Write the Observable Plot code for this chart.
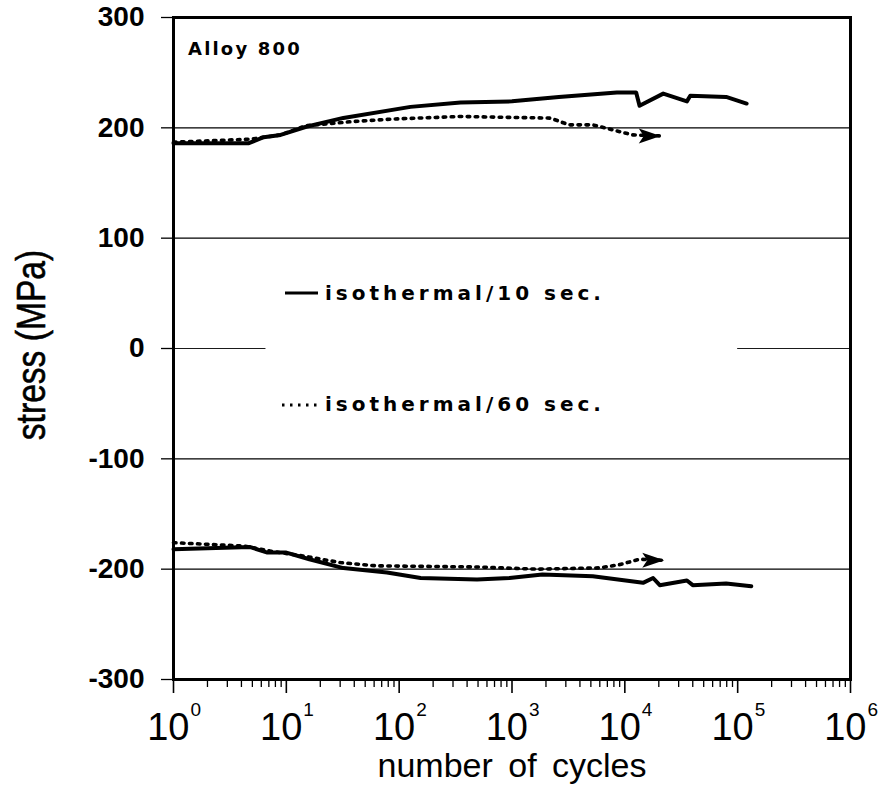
<!DOCTYPE html>
<html><head><meta charset="utf-8">
<script src="https://cdn.jsdelivr.net/npm/d3@7"></script>
<script src="https://cdn.jsdelivr.net/npm/@observablehq/plot@0.6"></script>
<style>body{margin:0;background:#fff}#chart{width:889px;height:786px}</style>
</head><body><div id="chart"></div><script>
// ---- data (cycles, stress MPa) ----
const upper10N = [1, 4.6, 6.3, 8.9, 15, 32, 126, 350, 1000, 2600, 8500, 12600, 13500, 21900, 35500, 38000, 79000, 120000];
const upper10S = [186, 186, 191.5, 193.6, 201, 209, 219, 223, 224, 228, 232, 232, 220, 231, 224, 229, 228, 222];
const upper60N = [1, 4.8, 8.9, 15, 39, 89, 350, 2200, 3200, 5200, 11700, 20400];
const upper60S = [187, 189.7, 193.6, 202, 205.7, 208, 210.3, 208.8, 202.7, 202.7, 193.6, 192.7];
const lower10N = [1, 4.8, 6.8, 10, 16, 32, 78, 155, 490, 950, 1860, 5200, 14500, 17800, 20400, 35500, 40000, 79000, 132000];
const lower10S = [-182, -180, -185, -185, -191, -199, -203, -208, -209.4, -208, -204.8, -206.4, -212.4, -208, -214.5, -210.3, -214.5, -213, -215.5];
const lower60N = [1, 4.2, 7.2, 14, 30, 63, 490, 1660, 6000, 9100, 13500, 21900];
const lower60S = [-176, -179, -183.6, -188, -194, -197, -198, -200, -198.8, -195.8, -191, -192];

const yTicks = [-300, -200, -100, 0, 100, 200, 300];
const gridValues = [-200, -100, 100, 200];
const zeroSegments = [{x1: 1, x2: 6.6}, {x1: 1e5, x2: 1e6}];
const majorTicks = [1, 10, 100, 1000, 1e4, 1e5, 1e6];
const minorTicks = [];
for (let d = 1; d < 1e6; d *= 10) for (let k = 2; k <= 9; k++) minorTicks.push(d * k);

const title = "Alloy 800";
const xLabel = "number of cycles";
const yLabel = "stress (MPa)";
const legendLabels = ["isothermal/10 sec.", "isothermal/60 sec."];

const toRows = (N, S) => N.map((n, i) => ({n, s: S[i]}));
const u10 = toRows(upper10N, upper10S), u60 = toRows(upper60N, upper60S);
const l10 = toRows(lower10N, lower10S), l60 = toRows(lower60N, lower60S);

const arrowSymbol = {
  draw(ctx) {
    ctx.moveTo(1, 0); ctx.lineTo(-21, -7.5); ctx.lineTo(-16, 0); ctx.lineTo(-21, 7.5); ctx.closePath();
  }
};

const boldFont = "DejaVu Sans, Liberation Sans, sans-serif";
const sans = "Liberation Sans, Arial, sans-serif";
const dotted = {strokeDasharray: "2.5,5.5", strokeWidth: 3.6};

const plot = Plot.plot({
  width: 889, height: 786,
  marginLeft: 173, marginRight: 39, marginTop: 17, marginBottom: 107,
  style: {background: "#fff", color: "#000"},
  x: {type: "log", domain: [1, 1e6], axis: null},
  y: {domain: [-300, 300], axis: null},
  marks: [
    Plot.ruleY(gridValues, {stroke: "#000", strokeWidth: 1.2}),
    Plot.ruleY(zeroSegments, {y: () => 0, x1: "x1", x2: "x2", stroke: "#000", strokeWidth: 0.9}),
    Plot.axisY({ticks: yTicks, tickSize: 12, tickFormat: () => "", label: null, stroke: "#000", strokeWidth: 1.3}),
    Plot.axisX({ticks: majorTicks, tickSize: 14, tickFormat: () => "", label: null, stroke: "#000", strokeWidth: 1.6}),
    Plot.axisX({ticks: minorTicks, tickSize: 8, tickFormat: () => "", label: null, stroke: "#000", strokeWidth: 1.3}),
    Plot.text(yTicks, {y: d => d, frameAnchor: "left", dx: -29, textAnchor: "end", text: d => String(d),
      fontFamily: sans, fontWeight: "bold", fontSize: 28, fill: "#000"}),
    Plot.text(majorTicks, {x: d => d, frameAnchor: "bottom", dy: 60, dx: 16, lineAnchor: "bottom", textAnchor: "end",
      text: () => "10", fontFamily: sans, fontSize: 38, fill: "#000"}),
    Plot.text(majorTicks, {x: d => d, frameAnchor: "bottom", dy: 36, dx: 17, lineAnchor: "bottom", textAnchor: "start",
      text: d => String(Math.round(Math.log10(d))), fontFamily: sans, fontSize: 19, fill: "#000"}),
    Plot.text([xLabel], {frameAnchor: "bottom", dy: 97, lineAnchor: "bottom", text: d => d,
      fontFamily: sans, fontSize: 34, fill: "#000"}),
    Plot.line(u10, {x: "n", y: "s", stroke: "#000", strokeWidth: 4, strokeLinejoin: "round"}),
    Plot.line(l10, {x: "n", y: "s", stroke: "#000", strokeWidth: 4, strokeLinejoin: "round"}),
    Plot.line(u60, {x: "n", y: "s", stroke: "#000", ...dotted}),
    Plot.line(l60, {x: "n", y: "s", stroke: "#000", ...dotted}),
    Plot.dot([u60[u60.length - 1], l60[l60.length - 1]], {x: "n", y: "s", symbol: arrowSymbol, fill: "#000", stroke: "none"}),
    Plot.frame({stroke: "#000", strokeWidth: 3})
  ]
});

const svg = d3.select(plot);
// x-label word spacing
svg.selectAll("text").filter(function() { return this.textContent === xLabel; }).attr("word-spacing", "6px");

// y axis title (narrow, rotated)
svg.append("text").text(yLabel)
  .attr("transform", "translate(45,345) rotate(-90) scale(0.84,1)")
  .attr("text-anchor", "middle").attr("font-family", sans).attr("font-size", 40)
  .attr("stroke", "#000").attr("stroke-width", 0.6).attr("fill", "#000");

// title
svg.append("text").text(title).attr("x", 188).attr("y", 55).attr("text-anchor", "start")
  .attr("font-family", boldFont).attr("font-weight", "bold").attr("font-size", 18)
  .attr("letter-spacing", "2.2px").attr("fill", "#000");

// legend inside the plot area
const lg = svg.append("g");
lg.append("line").attr("x1", 285).attr("x2", 318).attr("y1", 293).attr("y2", 293)
  .attr("stroke", "#000").attr("stroke-width", 3);
lg.append("line").attr("x1", 282).attr("x2", 318).attr("y1", 405).attr("y2", 405)
  .attr("stroke", "#000").attr("stroke-width", 3).attr("stroke-dasharray", "2.5,5.5");
[[300, legendLabels[0]], [411, legendLabels[1]]].forEach(([y, t]) => {
  lg.append("text").attr("x", 325).attr("y", y).text(t).attr("text-anchor", "start")
    .attr("font-family", boldFont).attr("font-weight", "bold").attr("font-size", 20)
    .attr("letter-spacing", "4px").attr("fill", "#000");
});
document.getElementById("chart").appendChild(plot);
</script></body></html>
